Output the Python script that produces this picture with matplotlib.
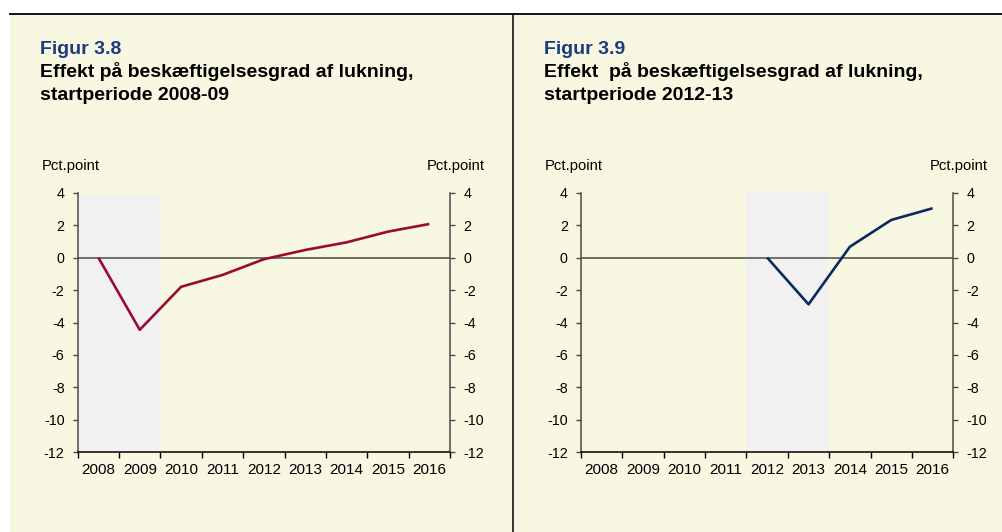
import numpy as np
import matplotlib as mpl
mpl.use("Agg")
from matplotlib import pyplot as plt
from matplotlib.patches import Rectangle
from matplotlib.lines import Line2D

mpl.rcParams.update({
    "font.family": ["Liberation Sans", "DejaVu Sans"],
    "axes.unicode_minus": False,
})

years = ["2008", "2009", "2010", "2011", "2012", "2013", "2014", "2015", "2016"]
yticks = [4, 2, 0, -2, -4, -6, -8, -10, -12]

# Figur 3.8 - startperiode 2008-09
effekt_0809 = [0.0, -4.45, -1.8, -1.07, -0.1, 0.47, 0.94, 1.6, 2.07]
shade_0809 = ("2008", "2009")
# Figur 3.9 - startperiode 2012-13 (first years empty)
effekt_1213 = [np.nan, np.nan, np.nan, np.nan, 0.0, -2.88, 0.67, 2.32, 3.04]
shade_1213 = ("2012", "2013")

titles = [("Figur 3.8", ["Effekt på beskæftigelsesgrad af lukning,", "startperiode 2008-09"]),
          ("Figur 3.9", ["Effekt  på beskæftigelsesgrad af lukning,", "startperiode 2012-13"])]

W, H = 1003, 532
cream = "#F8F7E1"
shade_col = "#F1F1F1"
navy_title = "#1C3A7E"


def fx(px):
    return px / W


def fy(py):
    return 1 - py / H


fig = plt.figure(figsize=(W / 100, H / 100), dpi=100, facecolor="white")

# cream background, frame lines
fig.patches.append(Rectangle((fx(10), 0), 1 - fx(10), fy(14), transform=fig.transFigure,
                             facecolor=cream, edgecolor="none", zorder=-5))
fig.lines.append(Line2D([fx(10), 1], [fy(14), fy(14)], transform=fig.transFigure,
                        color="black", lw=1.3, zorder=-4))
fig.lines.append(Line2D([fx(513.3), fx(513.3)], [0, fy(14)], transform=fig.transFigure,
                        color="black", lw=1.1, zorder=-4))


def draw_panel(axpos, values, shade, color, title, subtitle, tx, lab_l, lab_r, shade_top):
    ax = fig.add_axes(axpos)
    ax.set_facecolor("none")
    x = np.arange(len(years))
    i0 = years.index(shade[0])
    i1 = years.index(shade[1])
    ax.axvspan(i0 - 0.5, i1 + 0.5, ymin=0, ymax=(shade_top + 12) / 16,
               facecolor=shade_col, edgecolor="none", zorder=0)
    ax.axhline(0, color="#4a4a4a", lw=1.1, zorder=1)
    ax.plot(x, values, color=color, lw=1.9, zorder=3, solid_capstyle="butt")

    ax.set_xlim(-0.5, len(years) - 0.5)
    ax.set_ylim(-12, 4)
    ax.set_xticks(np.arange(len(years) + 1) - 0.5)
    ax.set_xticklabels([])
    ax.set_xticks(x, minor=True)
    ax.set_xticklabels(years, minor=True)
    ax.tick_params(axis="x", which="major", direction="out", length=4, width=1, color="black")
    ax.tick_params(axis="x", which="minor", length=0, pad=8, labelsize=11)
    ax.set_yticks(yticks)
    ax.set_yticklabels([str(v) for v in yticks])
    ax.tick_params(axis="y", direction="out", length=3.5, width=1, color="#4a4a4a",
                   left=True, right=True, labelleft=True, labelright=True, labelsize=10.3, pad=6)

    ax.spines["top"].set_visible(False)
    ax.spines["left"].set_color("#4a4a4a")
    ax.spines["right"].set_color("#4a4a4a")
    ax.spines["bottom"].set_color("black")
    for s in ["left", "right", "bottom"]:
        ax.spines[s].set_linewidth(1.1)

    fig.text(fx(tx), fy(54), title, fontsize=14, fontweight="bold", color=navy_title,
             va="baseline", ha="left")
    for k, line in enumerate(subtitle):
        fig.text(fx(tx), fy(77 + 23.5 * k), line, fontsize=14, fontweight="bold",
                 color="black", va="baseline", ha="left")
    fig.text(fx(lab_l), fy(166), "Pct.point", fontsize=10.75, va="center", ha="left")
    fig.text(fx(lab_r), fy(166), "Pct.point", fontsize=10.75, va="center", ha="right")
    return ax


draw_panel([fx(77.7), fy(452.3), fx(450) - fx(77.7), fy(192.7) - fy(452.3)],
           effekt_0809, shade_0809, "#9A0A33", titles[0][0], titles[0][1],
           40, 41.5, 485, 3.85)
draw_panel([fx(581), fy(452.3), fx(953.3) - fx(581), fy(192.7) - fy(452.3)],
           effekt_1213, shade_1213, "#0B2861", titles[1][0], titles[1][1],
           544, 545, 988, 4.0)

fig.savefig("out.png", dpi=100, facecolor="white")
